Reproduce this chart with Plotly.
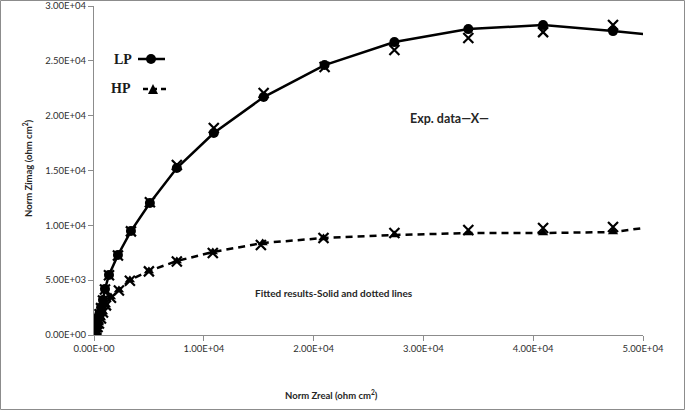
import plotly.graph_objects as go

# ---- data ----
lp_fit_x = [54000, 47270, 40900, 34090, 27360, 21000, 15450, 10910, 7545, 5090, 3364, 2182, 1364, 1000, 818,
            640, 500, 380, 280, 200, 140, 90, 55, 30, 15]
lp_fit_y = [27050, 27712, 28259, 27894, 26709, 24613, 21696, 18414, 15223, 12033, 9480, 7293, 5469, 4193, 3190,
            2500, 1950, 1500, 1100, 780, 530, 340, 200, 100, 40]

lp_exp_x = [47270, 40900, 34090, 27360, 21000, 15450, 10910, 7545, 5090, 3364, 2182, 1364, 1000, 818,
            640, 500, 380, 280, 200, 140, 90, 55, 30, 15]
lp_exp_y = [28259, 27620, 27074, 25980, 24430, 22060, 18870, 15500, 12100, 9450, 7250, 5450, 4150, 3150,
            2450, 1900, 1450, 1050, 750, 500, 320, 190, 95, 35]

hp_fit_x = [53000, 47270, 40900, 34090, 27360, 20900, 15360, 10820, 7545, 5000, 3270, 2270, 1545, 1090, 818,
            636, 450, 320, 220, 150, 95, 55, 25]
hp_fit_y = [10150, 9389, 9298, 9298, 9116, 8842, 8386, 7566, 6746, 5834, 5014, 4102, 3464, 2735, 2097,
            1550, 1094, 750, 500, 320, 190, 100, 40]

hp_exp_x = [47270, 40900, 34090, 27360, 20900, 15200, 10820, 7545, 5000, 3270, 2270, 1545, 1090, 818,
            636, 450, 320, 220, 150, 95, 55, 25]
hp_exp_y = [9845, 9754, 9571, 9298, 8842, 8204, 7475, 6700, 5800, 4950, 4050, 3400, 2700, 2050,
            1500, 1050, 720, 480, 300, 180, 95, 35]

x_tickvals = [0, 10000, 20000, 30000, 40000, 50000]
x_ticktext = ["0.00E+00", "1.00E+04", "2.00E+04", "3.00E+04", "4.00E+04", "5.00E+04"]
y_tickvals = [0, 5000, 10000, 15000, 20000, 25000, 30000]
y_ticktext = ["0.00E+00", "5.00E+03", "1.00E+04", "1.50E+04", "2.00E+04", "2.50E+04", "3.00E+04"]

# ---- layout geometry (pixels) ----
W, H = 685, 410
L, R, T, B = 94, 42, 6, 75
PW, PH = W - L - R, H - T - B


def px(x):
    return (x - L) / PW


def py(y):
    return (H - B - y) / PH


fig = go.Figure()

xm = dict(color="black", size=10, symbol="x-thin", line=dict(color="black", width=2.2))
fig.add_trace(go.Scatter(x=lp_exp_x, y=lp_exp_y, mode="markers", marker=xm, showlegend=False))
fig.add_trace(go.Scatter(x=hp_exp_x, y=hp_exp_y, mode="markers", marker=xm, showlegend=False))
fig.add_trace(go.Scatter(x=lp_fit_x, y=lp_fit_y, mode="lines+markers",
                         line=dict(color="black", width=2.5),
                         marker=dict(color="black", size=10, symbol="circle"), showlegend=False))
fig.add_trace(go.Scatter(x=hp_fit_x, y=hp_fit_y, mode="lines+markers",
                         line=dict(color="black", width=2.5, dash="7px,5px"),
                         marker=dict(color="black", size=9, symbol="triangle-up"), showlegend=False))

axis_common = dict(showgrid=False, zeroline=False, showline=True, linecolor="#8c8c8c", linewidth=1,
                   ticks="outside", ticklen=5, tickcolor="#8c8c8c", automargin=False,
                   tickfont=dict(family="Lato", size=9.5, color="#2e2e2e"))

fig.update_xaxes(range=[0, 50000], tickvals=x_tickvals, ticktext=x_ticktext, **axis_common)
fig.update_yaxes(range=[0, 30000], tickvals=y_tickvals, ticktext=y_ticktext, **axis_common)

bold = dict(family="Lato", color="#262626")
annotations = [
    dict(x=px(331), y=py(394), text="<b>Norm Zreal (ohm cm<sup>2</sup>)</b>", font=dict(size=9.5, **bold)),
    dict(x=px(27), y=py(168), text="<b>Norm Zimag (ohm cm<sup>2</sup>)</b>", textangle=-90,
         font=dict(size=9.5, **bold)),
    dict(x=px(449), y=py(118), text="<b>Exp. data\u2014X\u2014</b>", font=dict(size=12.5, **bold)),
    dict(x=px(334), y=py(293), text="<b>Fitted results-Solid and dotted lines</b>", font=dict(size=10, **bold)),
    dict(x=px(123), y=py(59), text="<b>LP</b>", font=dict(family="Liberation Serif", size=14, color="#1a1a1a")),
    dict(x=px(121), y=py(89), text="<b>HP</b>", font=dict(family="Liberation Serif", size=14, color="#1a1a1a")),
]
for a in annotations:
    a.update(xref="paper", yref="paper", showarrow=False, xanchor="center", yanchor="middle")

shapes = [
    # outer frame
    dict(type="rect", xref="paper", yref="paper", x0=px(0.5), x1=px(W - 0.5), y0=py(H - 0.5), y1=py(0.5),
         line=dict(color="#8c8c8c", width=1), layer="below"),
    # LP key
    dict(type="line", xref="paper", yref="paper", x0=px(138), x1=px(165), y0=py(59), y1=py(59),
         line=dict(color="black", width=2.5)),
    dict(type="circle", xref="paper", yref="paper", x0=px(146), x1=px(156), y0=py(64), y1=py(54),
         fillcolor="black", line=dict(color="black", width=0)),
    # HP key
    dict(type="line", xref="paper", yref="paper", x0=px(143), x1=px(170), y0=py(89), y1=py(89),
         line=dict(color="black", width=2.5, dash="5px,4px")),
    dict(type="path", xref="paper", yref="paper",
         path=f"M {px(148)} {py(94)} L {px(158)} {py(94)} L {px(153)} {py(84)} Z",
         fillcolor="black", line=dict(color="black", width=0)),
]

fig.update_layout(width=W, height=H, margin=dict(l=L, r=R, t=T, b=B),
                  plot_bgcolor="white", paper_bgcolor="white",
                  annotations=annotations, shapes=shapes, showlegend=False)

fig.write_html("out.html", config={"displayModeBar": False},
               post_script="document.body.style.margin='0';document.body.style.overflow='hidden';")
